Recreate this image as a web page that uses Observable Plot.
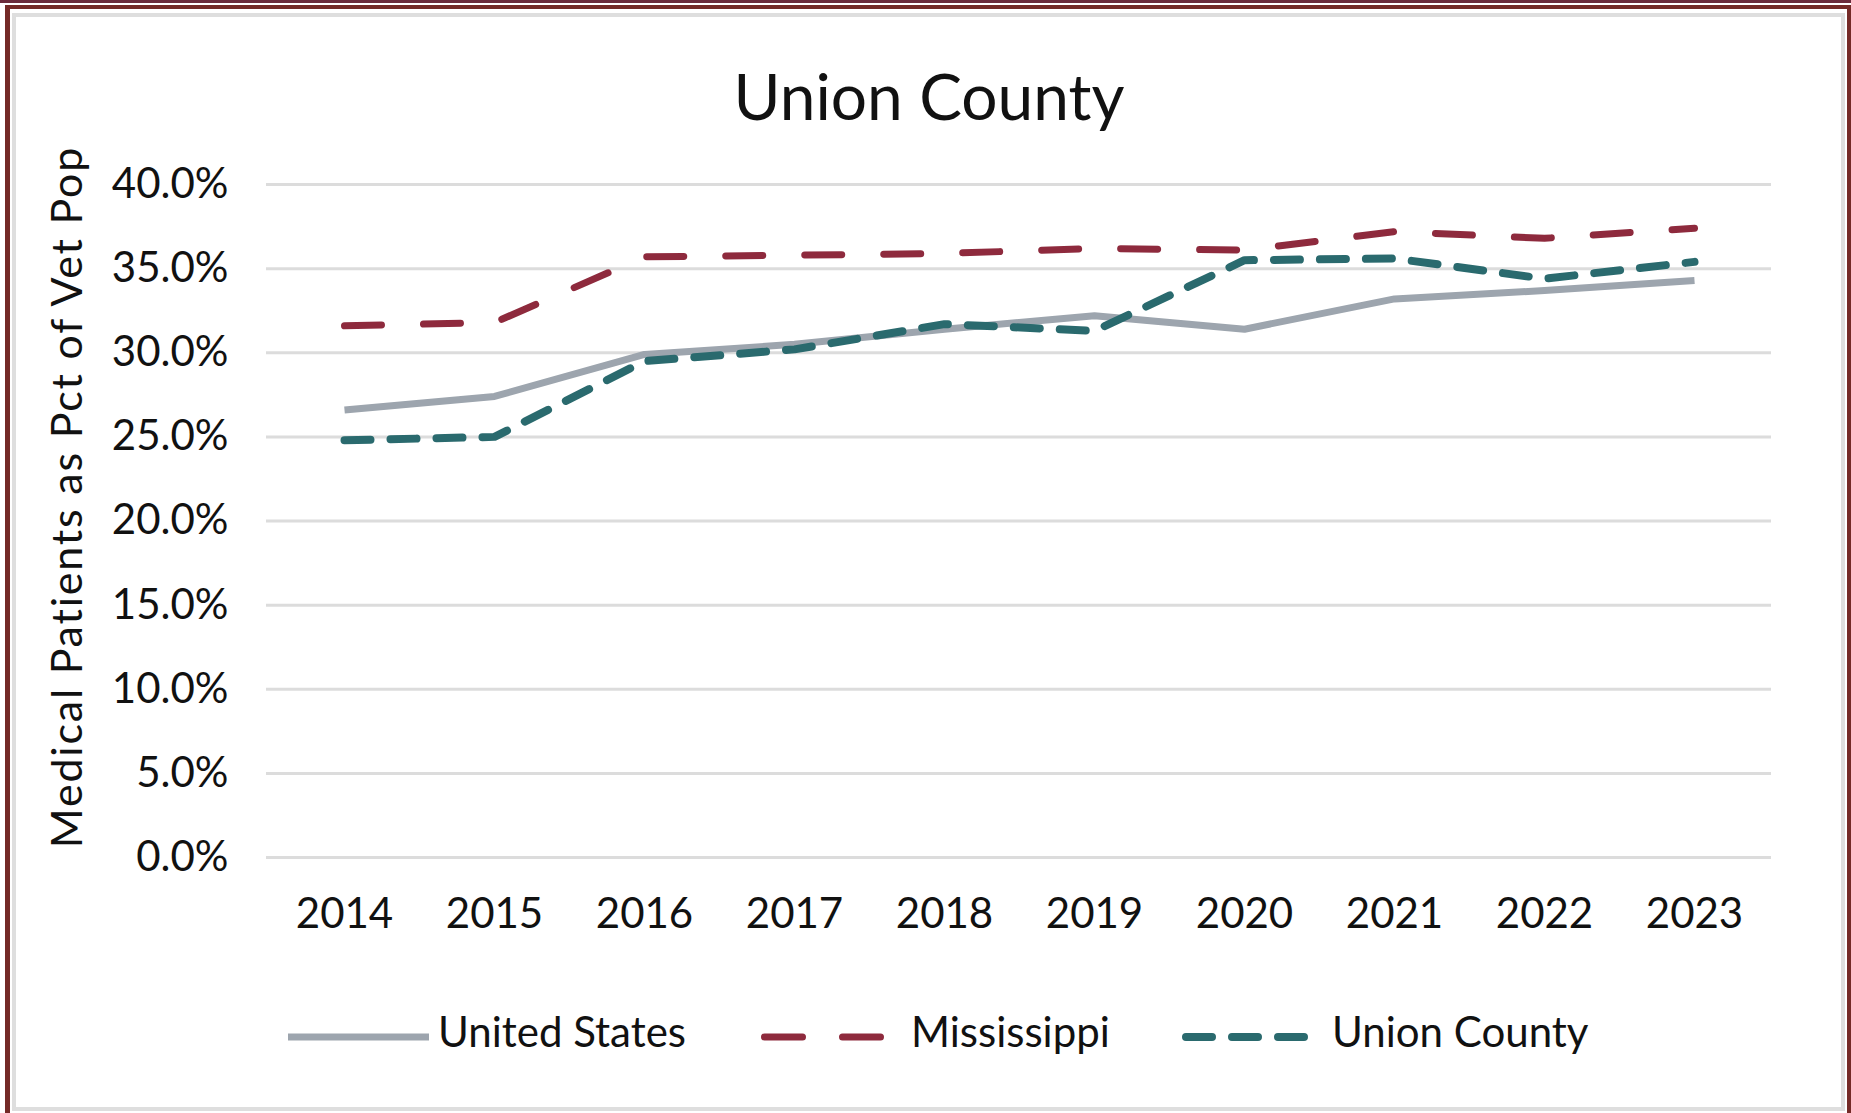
<!DOCTYPE html>
<html>
<head>
<meta charset="utf-8">
<script src="https://cdn.jsdelivr.net/npm/d3@7"></script>
<script src="https://cdn.jsdelivr.net/npm/@observablehq/plot@0.6"></script>
<style>
  html, body { margin: 0; padding: 0; background: #fff; }
  #page { position: relative; width: 1851px; height: 1113px; overflow: hidden; background: #fff; font-family: Lato, "Open Sans", sans-serif; color: #111; }
  .abs { position: absolute; }
  #title { position: absolute; left: 0; width: 1858px; text-align: center; top: 64px; font-size: 64px; line-height: 64px; color: #111; }
  .leg { position: absolute; top: 1010px; height: 50px; font-size: 42px; line-height: 42px; white-space: nowrap; }
  #chart { position: absolute; left: 0; top: 0; }
</style>
</head>
<body>
<div id="page">
  <div class="abs" style="left:0;top:0;width:1851px;height:3px;background:#6b2b3b"></div>
  <div class="abs" style="left:5px;top:5px;width:1846px;height:4px;background:#742a27"></div>
  <div class="abs" style="left:5px;top:5px;width:5px;height:1108px;background:#742a27"></div>
  <div class="abs" style="left:1847px;top:5px;width:4px;height:1108px;background:#742a27"></div>
  <div class="abs" style="left:12px;top:13px;width:1825px;height:1090px;border:4px solid #dedede"></div>
  <div id="chart"></div>
  <div id="title">Union County</div>
  <div id="legend"></div>
</div>
<script>
const years = ["2014", "2015", "2016", "2017", "2018", "2019", "2020", "2021", "2022", "2023"];
const unitedStates = [0.266, 0.274, 0.299, 0.305, 0.314, 0.322, 0.314, 0.332, 0.337, 0.343];
const mississippi  = [0.316, 0.318, 0.357, 0.358, 0.359, 0.362, 0.361, 0.372, 0.368, 0.374];
const unionCounty  = [0.248, 0.250, 0.295, 0.302, 0.317, 0.313, 0.355, 0.356, 0.344, 0.354];
const yTicks = [0, 0.05, 0.10, 0.15, 0.20, 0.25, 0.30, 0.35, 0.40];
const seriesNames = ["United States", "Mississippi", "Union County"];
const yLabel = "Medical Patients as Pct of Vet Pop";

const colors = {"United States": "#9da5ae", "Mississippi": "#8e2a3d", "Union County": "#2a6a6e"};
const styles = {
  "United States": {strokeWidth: 7, dash: null, cap: "butt"},
  "Mississippi": {strokeWidth: 7, dash: "37,42", cap: "round"},
  "Union County": {strokeWidth: 8, dash: "26,20", cap: "round"}
};
const seriesValues = {"United States": unitedStates, "Mississippi": mississippi, "Union County": unionCounty};

const rows = seriesNames.map(name => years.map((yr, i) => ({series: name, year: yr, value: seriesValues[name][i]})));

const W = 1851, H = 960;
const chart = Plot.plot({
  width: W,
  height: H,
  marginTop: 184,
  marginBottom: H - 857,
  marginLeft: 266,
  marginRight: W - 1771,
  style: {fontFamily: "Lato, 'Open Sans', sans-serif", fontSize: "42px", color: "#111", background: "transparent", overflow: "visible"},
  x: {type: "point", domain: years, padding: 0.5},
  y: {domain: [0, 0.4]},
  marks: [
    Plot.gridY(yTicks, {stroke: "#dcdcdc", strokeOpacity: 1, strokeWidth: 3}),
    Plot.axisY(yTicks, {tickSize: 0, tickPadding: 38, tickFormat: d3.format(".1%"), fontSize: 42, label: null}),
    Plot.axisX({tickSize: 0, tickPadding: 41, fontSize: 42, label: null}),
    ...seriesNames.map((name, k) => Plot.line(rows[k], {
      x: "year", y: "value",
      stroke: colors[name],
      strokeWidth: styles[name].strokeWidth,
      strokeDasharray: styles[name].dash,
      strokeLinecap: styles[name].cap,
      strokeLinejoin: "round"
    }))
  ]
});
document.getElementById("chart").appendChild(chart);

// y axis title
d3.select(chart).append("text")
  .attr("transform", "translate(82,497) rotate(-90)")
  .attr("text-anchor", "middle")
  .attr("font-size", 43)
  .attr("letter-spacing", "1.8px")
  .attr("fill", "#111")
  .text(yLabel);

// legend
const legendPos = [
  {name: "United States", x0: 288, x1: 429, tx: 438},
  {name: "Mississippi", x0: 761, x1: 886, tx: 911},
  {name: "Union County", x0: 1182, x1: 1308, tx: 1332}
];
const legend = document.getElementById("legend");
legendPos.forEach(p => {
  const s = styles[p.name];
  const ns = "http://www.w3.org/2000/svg";
  const svg = document.createElementNS(ns, "svg");
  svg.setAttribute("width", p.x1 - p.x0 + 10);
  svg.setAttribute("height", 20);
  svg.style.position = "absolute";
  svg.style.left = (p.x0 - 5) + "px";
  svg.style.top = "1027px";
  const ln = document.createElementNS(ns, "line");
  const capPad = s.cap === "round" ? s.strokeWidth / 2 : 0;
  ln.setAttribute("x1", 5 + capPad);
  ln.setAttribute("x2", p.x1 - p.x0 + 5 - capPad);
  ln.setAttribute("y1", 10);
  ln.setAttribute("y2", 10);
  ln.setAttribute("stroke", colors[p.name]);
  ln.setAttribute("stroke-width", s.strokeWidth);
  ln.setAttribute("stroke-linecap", s.cap);
  if (s.dash) ln.setAttribute("stroke-dasharray", p.name === "Mississippi" ? "38,40" : "26,20");
  svg.appendChild(ln);
  legend.appendChild(svg);
  const t = document.createElement("div");
  t.className = "leg";
  t.style.left = p.tx + "px";
  t.textContent = p.name;
  legend.appendChild(t);
});
</script>
</body>
</html>
